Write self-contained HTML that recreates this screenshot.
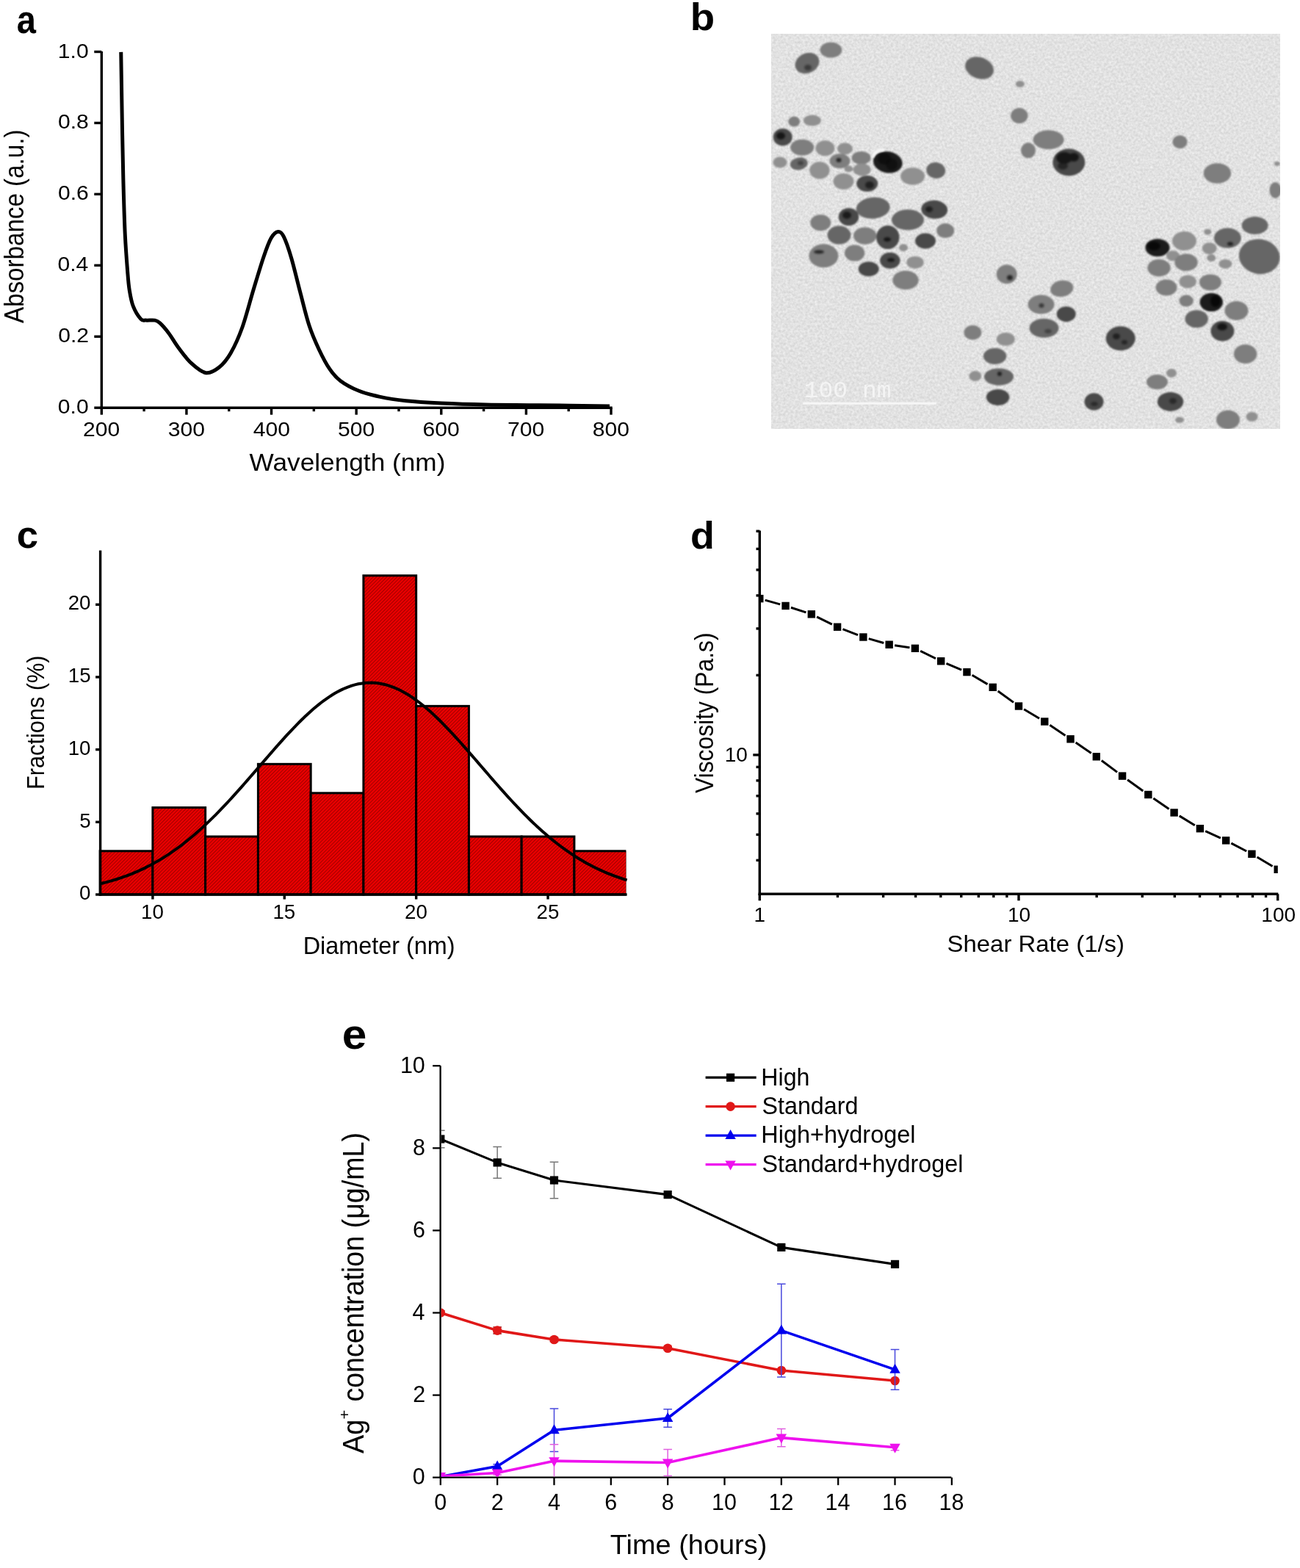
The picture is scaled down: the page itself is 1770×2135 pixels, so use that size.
<!DOCTYPE html>
<html><head><meta charset="utf-8"><style>
html,body{margin:0;padding:0;background:#fff;}
svg{display:block;}
</style></head><body>
<svg width="1770" height="2135" viewBox="0 0 1770 2135">
<rect width="1770" height="2135" fill="#fff"/>
<line x1="138.30" y1="70.00" x2="138.30" y2="556.90" stroke="#000" stroke-width="3.4" />
<line x1="136.60" y1="555.20" x2="833.70" y2="555.20" stroke="#000" stroke-width="3.4" />
<line x1="138.30" y1="555.20" x2="138.30" y2="564.70" stroke="#000" stroke-width="3.4" />
<line x1="253.92" y1="555.20" x2="253.92" y2="564.70" stroke="#000" stroke-width="3.4" />
<line x1="369.53" y1="555.20" x2="369.53" y2="564.70" stroke="#000" stroke-width="3.4" />
<line x1="485.15" y1="555.20" x2="485.15" y2="564.70" stroke="#000" stroke-width="3.4" />
<line x1="600.77" y1="555.20" x2="600.77" y2="564.70" stroke="#000" stroke-width="3.4" />
<line x1="716.38" y1="555.20" x2="716.38" y2="564.70" stroke="#000" stroke-width="3.4" />
<line x1="832.00" y1="555.20" x2="832.00" y2="564.70" stroke="#000" stroke-width="3.4" />
<line x1="196.11" y1="555.20" x2="196.11" y2="560.20" stroke="#000" stroke-width="3.4" />
<line x1="311.73" y1="555.20" x2="311.73" y2="560.20" stroke="#000" stroke-width="3.4" />
<line x1="427.34" y1="555.20" x2="427.34" y2="560.20" stroke="#000" stroke-width="3.4" />
<line x1="542.96" y1="555.20" x2="542.96" y2="560.20" stroke="#000" stroke-width="3.4" />
<line x1="658.58" y1="555.20" x2="658.58" y2="560.20" stroke="#000" stroke-width="3.4" />
<line x1="774.19" y1="555.20" x2="774.19" y2="560.20" stroke="#000" stroke-width="3.4" />
<line x1="138.30" y1="555.20" x2="128.30" y2="555.20" stroke="#000" stroke-width="3.4" />
<line x1="138.30" y1="458.26" x2="128.30" y2="458.26" stroke="#000" stroke-width="3.4" />
<line x1="138.30" y1="361.32" x2="128.30" y2="361.32" stroke="#000" stroke-width="3.4" />
<line x1="138.30" y1="264.38" x2="128.30" y2="264.38" stroke="#000" stroke-width="3.4" />
<line x1="138.30" y1="167.44" x2="128.30" y2="167.44" stroke="#000" stroke-width="3.4" />
<line x1="138.30" y1="70.50" x2="128.30" y2="70.50" stroke="#000" stroke-width="3.4" />
<text x="78.81" y="563.20" font-family="'Liberation Sans',Arial,sans-serif" font-weight="normal" font-size="27.60" textLength="41.82" lengthAdjust="spacingAndGlyphs" fill="#000" >0.0</text>
<text x="79.19" y="466.26" font-family="'Liberation Sans',Arial,sans-serif" font-weight="normal" font-size="27.60" textLength="41.82" lengthAdjust="spacingAndGlyphs" fill="#000" >0.2</text>
<text x="78.51" y="369.32" font-family="'Liberation Sans',Arial,sans-serif" font-weight="normal" font-size="27.60" textLength="41.82" lengthAdjust="spacingAndGlyphs" fill="#000" >0.4</text>
<text x="78.96" y="272.38" font-family="'Liberation Sans',Arial,sans-serif" font-weight="normal" font-size="27.60" textLength="41.82" lengthAdjust="spacingAndGlyphs" fill="#000" >0.6</text>
<text x="78.96" y="175.44" font-family="'Liberation Sans',Arial,sans-serif" font-weight="normal" font-size="27.60" textLength="41.82" lengthAdjust="spacingAndGlyphs" fill="#000" >0.8</text>
<text x="78.81" y="78.50" font-family="'Liberation Sans',Arial,sans-serif" font-weight="normal" font-size="27.60" textLength="41.82" lengthAdjust="spacingAndGlyphs" fill="#000" >1.0</text>
<text x="113.03" y="593.70" font-family="'Liberation Sans',Arial,sans-serif" font-weight="normal" font-size="27.60" textLength="50.20" lengthAdjust="spacingAndGlyphs" fill="#000" >200</text>
<text x="228.83" y="593.70" font-family="'Liberation Sans',Arial,sans-serif" font-weight="normal" font-size="27.60" textLength="50.20" lengthAdjust="spacingAndGlyphs" fill="#000" >300</text>
<text x="344.68" y="593.70" font-family="'Liberation Sans',Arial,sans-serif" font-weight="normal" font-size="27.60" textLength="50.20" lengthAdjust="spacingAndGlyphs" fill="#000" >400</text>
<text x="460.03" y="593.70" font-family="'Liberation Sans',Arial,sans-serif" font-weight="normal" font-size="27.60" textLength="50.20" lengthAdjust="spacingAndGlyphs" fill="#000" >500</text>
<text x="575.50" y="593.70" font-family="'Liberation Sans',Arial,sans-serif" font-weight="normal" font-size="27.60" textLength="50.20" lengthAdjust="spacingAndGlyphs" fill="#000" >600</text>
<text x="691.11" y="593.70" font-family="'Liberation Sans',Arial,sans-serif" font-weight="normal" font-size="27.60" textLength="50.20" lengthAdjust="spacingAndGlyphs" fill="#000" >700</text>
<text x="806.84" y="593.70" font-family="'Liberation Sans',Arial,sans-serif" font-weight="normal" font-size="27.60" textLength="50.20" lengthAdjust="spacingAndGlyphs" fill="#000" >800</text>
<text x="339.62" y="640.80" font-family="'Liberation Sans',Arial,sans-serif" font-weight="normal" font-size="33.70" textLength="266.77" lengthAdjust="spacingAndGlyphs" fill="#000" >Wavelength (nm)</text>
<text transform="translate(31.90,0) rotate(-90)" x="-440.08" y="0" font-family="'Liberation Sans',Arial,sans-serif" font-weight="normal" font-size="36.00" textLength="263.52" lengthAdjust="spacingAndGlyphs" fill="#000" >Absorbance (a.u.)</text>
<path d="M164.75,70.90 C165.06,89.72 166.03,152.62 166.60,183.80 C167.17,214.98 167.58,235.30 168.20,258.00 C168.82,280.70 169.40,301.50 170.30,320.00 C171.20,338.50 172.62,356.53 173.60,369.00 C174.58,381.47 174.90,386.77 176.20,394.80 C177.50,402.83 178.82,410.60 181.40,417.20 C183.98,423.80 188.83,431.25 191.70,434.40 C194.57,437.55 195.43,435.82 198.60,436.10 C201.77,436.38 207.55,435.52 210.70,436.10 C213.85,436.68 214.35,436.72 217.50,439.60 C220.65,442.48 225.28,447.67 229.60,453.40 C233.92,459.13 238.23,467.12 243.40,474.00 C248.57,480.88 254.43,489.08 260.60,494.70 C266.77,500.32 274.08,506.82 280.40,507.70 C286.72,508.58 292.90,504.45 298.50,500.00 C304.10,495.55 308.82,489.92 314.00,481.00 C319.18,472.08 324.43,460.87 329.60,446.50 C334.77,432.13 340.12,410.88 345.00,394.80 C349.88,378.72 354.87,361.78 358.90,350.00 C362.93,338.22 365.90,329.85 369.20,324.10 C372.50,318.35 375.83,315.78 378.70,315.50 C381.57,315.22 383.38,316.37 386.40,322.40 C389.42,328.43 393.07,339.07 396.80,351.70 C400.53,364.33 404.78,382.98 408.80,398.20 C412.82,413.42 416.62,430.00 420.90,443.00 C425.18,456.00 429.82,466.25 434.50,476.20 C439.18,486.15 444.18,495.67 449.00,502.70 C453.82,509.73 456.97,513.57 463.40,518.40 C469.83,523.23 478.75,528.08 487.60,531.70 C496.45,535.32 505.65,537.77 516.50,540.10 C527.35,542.43 538.62,544.22 552.70,545.70 C566.78,547.18 582.90,548.12 601.00,549.00 C619.10,549.88 639.20,550.55 661.30,551.00 C683.40,551.45 705.48,551.38 733.60,551.70 C761.72,552.02 813.93,552.70 830.00,552.90" fill="none" stroke="#000" stroke-width="5" stroke-linejoin="round"/>
<text x="22.79" y="45.30" font-family="'Liberation Sans',Arial,sans-serif" font-weight="bold" font-size="53.00" textLength="26.22" lengthAdjust="spacingAndGlyphs" fill="#000" >a</text>
<defs><filter id="tn" x="0" y="0" width="100%" height="100%" color-interpolation-filters="sRGB"><feTurbulence type="fractalNoise" baseFrequency="0.3" numOctaves="2" seed="7" result="n"/><feColorMatrix in="n" type="matrix" values="0.16 0 0 0 0.805  0.16 0 0 0 0.805  0.16 0 0 0 0.805  0 0 0 0 1"/></filter><filter id="pb" x="-30%" y="-30%" width="160%" height="160%"><feGaussianBlur stdDeviation="1.1"/></filter><filter id="sb" x="-50%" y="-50%" width="200%" height="200%"><feGaussianBlur stdDeviation="1.8"/></filter><clipPath id="tc"><rect x="1050" y="46" width="693" height="538"/></clipPath></defs>
<rect x="1050" y="46" width="693" height="538" fill="#dedede"/>
<rect x="1050" y="46" width="693" height="538" filter="url(#tn)"/>
<g clip-path="url(#tc)"><g filter="url(#pb)">
<ellipse cx="1099" cy="86" rx="17" ry="13.5" fill="#666666" transform="rotate(-25 1099 86)"/>
<ellipse cx="1131.4" cy="68.1" rx="15" ry="10.5" fill="#7e7e7e"/>
<ellipse cx="1333.5" cy="92.6" rx="20" ry="14.5" fill="#666666" transform="rotate(20 1333.5 92.6)"/>
<ellipse cx="1388.8" cy="114.4" rx="6" ry="4.5" fill="#909090"/>
<ellipse cx="1387.8" cy="157.6" rx="11.7" ry="10.5" fill="#7e7e7e"/>
<ellipse cx="1400" cy="204.8" rx="10" ry="10.5" fill="#7e7e7e"/>
<ellipse cx="1081.2" cy="165.6" rx="8" ry="7" fill="#7e7e7e"/>
<ellipse cx="1105.9" cy="164" rx="12" ry="7.6" fill="#909090"/>
<ellipse cx="1065.7" cy="186.7" rx="13" ry="11.7" fill="#494949"/>
<ellipse cx="1092.2" cy="200.8" rx="16" ry="11" fill="#7e7e7e"/>
<ellipse cx="1123.4" cy="201.8" rx="13" ry="10.5" fill="#909090"/>
<ellipse cx="1150.5" cy="202.4" rx="10.5" ry="8" fill="#909090"/>
<ellipse cx="1062" cy="221" rx="9.6" ry="7.6" fill="#909090"/>
<ellipse cx="1087.8" cy="222.9" rx="12" ry="8.4" fill="#666666" transform="rotate(-10 1087.8 222.9)"/>
<ellipse cx="1143.5" cy="219.3" rx="14" ry="10" fill="#7e7e7e"/>
<ellipse cx="1172.6" cy="214.9" rx="13" ry="9" fill="#7e7e7e"/>
<ellipse cx="1208.8" cy="220.9" rx="20" ry="14.5" fill="#1c1c1c" transform="rotate(10 1208.8 220.9)"/>
<ellipse cx="1115.9" cy="232" rx="13.7" ry="11.7" fill="#909090"/>
<ellipse cx="1173.6" cy="231" rx="12" ry="8.4" fill="#909090"/>
<ellipse cx="1155.5" cy="230" rx="6" ry="4.4" fill="#909090"/>
<ellipse cx="1148.5" cy="247" rx="14" ry="11" fill="#909090"/>
<ellipse cx="1180.7" cy="250" rx="14.5" ry="11" fill="#494949"/>
<ellipse cx="1242.6" cy="240" rx="16.5" ry="11.7" fill="#909090"/>
<ellipse cx="1274.2" cy="232" rx="13" ry="11" fill="#666666" transform="rotate(10 1274.2 232)"/>
<ellipse cx="1188.7" cy="283.2" rx="23" ry="14.5" fill="#666666" transform="rotate(-5 1188.7 283.2)"/>
<ellipse cx="1155.5" cy="295.3" rx="13.7" ry="12" fill="#494949"/>
<ellipse cx="1117.3" cy="303.3" rx="14" ry="11" fill="#7e7e7e"/>
<ellipse cx="1236" cy="299.3" rx="22" ry="14" fill="#666666"/>
<ellipse cx="1272.2" cy="285.3" rx="18" ry="12.5" fill="#494949" transform="rotate(5 1272.2 285.3)"/>
<ellipse cx="1287.2" cy="314.1" rx="12" ry="10" fill="#7e7e7e"/>
<ellipse cx="1427.6" cy="190.3" rx="21" ry="13" fill="#7e7e7e"/>
<ellipse cx="1455.3" cy="221" rx="22" ry="18.5" fill="#494949"/>
<ellipse cx="1606.5" cy="193.2" rx="10" ry="9" fill="#7e7e7e"/>
<ellipse cx="1657.4" cy="236" rx="18.7" ry="13.7" fill="#7e7e7e"/>
<ellipse cx="1738.8" cy="223" rx="4" ry="3" fill="#909090"/>
<ellipse cx="1736.4" cy="259" rx="8" ry="11" fill="#7e7e7e"/>
<ellipse cx="1708.6" cy="307" rx="18" ry="12" fill="#666666"/>
<ellipse cx="1142.5" cy="320.1" rx="16" ry="12.5" fill="#666666"/>
<ellipse cx="1177.7" cy="321.1" rx="15.7" ry="11.7" fill="#7e7e7e"/>
<ellipse cx="1208.8" cy="323.1" rx="15.7" ry="16" fill="#494949"/>
<ellipse cx="1260" cy="328.1" rx="14" ry="10.5" fill="#494949"/>
<ellipse cx="1230" cy="337.2" rx="6" ry="5" fill="#909090"/>
<ellipse cx="1121.4" cy="348.3" rx="20" ry="16" fill="#7e7e7e"/>
<ellipse cx="1163.6" cy="344.6" rx="13.7" ry="11" fill="#7e7e7e"/>
<ellipse cx="1211.8" cy="354.7" rx="13.7" ry="11" fill="#494949"/>
<ellipse cx="1246" cy="357.3" rx="11.7" ry="8.4" fill="#909090"/>
<ellipse cx="1182.7" cy="366.3" rx="14" ry="10" fill="#494949"/>
<ellipse cx="1233" cy="381.4" rx="17.7" ry="13" fill="#7e7e7e"/>
<ellipse cx="1370.7" cy="373.4" rx="14" ry="13" fill="#7e7e7e"/>
<ellipse cx="1324.4" cy="452.8" rx="12" ry="10" fill="#7e7e7e"/>
<ellipse cx="1369.3" cy="461.8" rx="12.5" ry="9" fill="#909090"/>
<ellipse cx="1354.6" cy="485" rx="15.7" ry="11" fill="#666666"/>
<ellipse cx="1327.8" cy="512.1" rx="8.4" ry="7" fill="#909090"/>
<ellipse cx="1360" cy="513.1" rx="20" ry="11.7" fill="#666666"/>
<ellipse cx="1358.6" cy="540.9" rx="15.7" ry="11" fill="#494949"/>
<ellipse cx="1576" cy="337.2" rx="16.5" ry="12" fill="#1c1c1c"/>
<ellipse cx="1612.5" cy="328.1" rx="16.5" ry="13" fill="#909090"/>
<ellipse cx="1644.3" cy="315.7" rx="5" ry="4" fill="#909090"/>
<ellipse cx="1671.4" cy="324.1" rx="18.5" ry="13.7" fill="#666666"/>
<ellipse cx="1714.7" cy="349.3" rx="28" ry="23.7" fill="#666666" transform="rotate(10 1714.7 349.3)"/>
<ellipse cx="1646.7" cy="338.2" rx="10" ry="8" fill="#909090"/>
<ellipse cx="1649.3" cy="351.3" rx="6" ry="5" fill="#909090"/>
<ellipse cx="1597" cy="348.2" rx="9" ry="7" fill="#909090"/>
<ellipse cx="1615" cy="357.3" rx="15.7" ry="11.7" fill="#7e7e7e"/>
<ellipse cx="1578" cy="364.7" rx="15.7" ry="11.7" fill="#7e7e7e"/>
<ellipse cx="1668.4" cy="359.3" rx="9" ry="6.4" fill="#909090"/>
<ellipse cx="1588" cy="391.5" rx="14.5" ry="11" fill="#7e7e7e"/>
<ellipse cx="1617.2" cy="383.4" rx="11.7" ry="9" fill="#909090"/>
<ellipse cx="1648" cy="384.4" rx="15" ry="11" fill="#7e7e7e"/>
<ellipse cx="1615.2" cy="409.6" rx="9.7" ry="8" fill="#7e7e7e"/>
<ellipse cx="1649.3" cy="411.6" rx="15.7" ry="12.5" fill="#1c1c1c"/>
<ellipse cx="1683.5" cy="423" rx="16" ry="13" fill="#7e7e7e"/>
<ellipse cx="1629.2" cy="434.3" rx="15.7" ry="12" fill="#666666"/>
<ellipse cx="1664.4" cy="450.8" rx="16" ry="13.7" fill="#494949"/>
<ellipse cx="1695.6" cy="482" rx="15.7" ry="13" fill="#7e7e7e"/>
<ellipse cx="1445.7" cy="392.9" rx="15.7" ry="11" fill="#7e7e7e" transform="rotate(-10 1445.7 392.9)"/>
<ellipse cx="1417.5" cy="414.6" rx="18" ry="13" fill="#7e7e7e"/>
<ellipse cx="1451.7" cy="427.7" rx="13" ry="10.5" fill="#494949"/>
<ellipse cx="1421.5" cy="446.8" rx="20" ry="13" fill="#666666"/>
<ellipse cx="1525.7" cy="460.8" rx="20" ry="16.5" fill="#494949"/>
<ellipse cx="1595" cy="508" rx="7" ry="6" fill="#909090"/>
<ellipse cx="1575.5" cy="520.1" rx="14.5" ry="10" fill="#7e7e7e"/>
<ellipse cx="1593.6" cy="546.9" rx="17.7" ry="13" fill="#494949"/>
<ellipse cx="1489.5" cy="546.9" rx="13" ry="11.7" fill="#494949"/>
<ellipse cx="1606" cy="571.8" rx="6" ry="4" fill="#909090"/>
<ellipse cx="1672" cy="571.4" rx="16" ry="13" fill="#7e7e7e"/>
<ellipse cx="1704.6" cy="567.4" rx="8" ry="6.4" fill="#909090"/>
</g><g filter="url(#sb)" opacity="0.7">
<ellipse cx="1063" cy="185" rx="6" ry="5" fill="#000" opacity="1"/>
<ellipse cx="1142" cy="218" rx="3.5" ry="3" fill="#000" opacity="1"/>
<ellipse cx="1449" cy="215" rx="11" ry="8" fill="#000" opacity="1"/>
<ellipse cx="1462" cy="214" rx="7" ry="6" fill="#000" opacity="1"/>
<ellipse cx="1447" cy="226" rx="7" ry="5" fill="#000" opacity="0.7"/>
<ellipse cx="1571" cy="335" rx="9" ry="6" fill="#000" opacity="1"/>
<ellipse cx="1655" cy="410" rx="7" ry="8" fill="#000" opacity="1"/>
<ellipse cx="1375" cy="378" rx="4" ry="3.5" fill="#000" opacity="1"/>
<ellipse cx="1213" cy="354" rx="5" ry="2.5" fill="#000" opacity="1"/>
<ellipse cx="1208" cy="326" rx="5" ry="3" fill="#000" opacity="1"/>
<ellipse cx="1115" cy="343" rx="7" ry="2.5" fill="#000" opacity="1"/>
<ellipse cx="1520" cy="458" rx="5" ry="4" fill="#000" opacity="0.8"/>
<ellipse cx="1531" cy="466" rx="4" ry="3" fill="#000" opacity="0.7"/>
<ellipse cx="1418" cy="416" rx="3.5" ry="3" fill="#000" opacity="0.8"/>
<ellipse cx="1664" cy="445" rx="7" ry="5" fill="#000" opacity="1"/>
<ellipse cx="1361" cy="509" rx="3" ry="3" fill="#000" opacity="1"/>
<ellipse cx="1675" cy="332" rx="4" ry="2.5" fill="#000" opacity="1"/>
<ellipse cx="1100" cy="92" rx="5" ry="4" fill="#000" opacity="0.6"/>
<ellipse cx="1184" cy="252" rx="6" ry="5" fill="#000" opacity="0.8"/>
<ellipse cx="1153" cy="293" rx="6" ry="5" fill="#000" opacity="0.9"/>
<ellipse cx="1265" cy="285" rx="5" ry="4" fill="#000" opacity="0.8"/>
<ellipse cx="1090" cy="222" rx="4" ry="3" fill="#000" opacity="0.5"/>
<ellipse cx="1204" cy="216" rx="9" ry="8" fill="#000" opacity="0.7"/>
<ellipse cx="1214" cy="224" rx="8" ry="8" fill="#000" opacity="0.6"/>
<ellipse cx="1427" cy="451" rx="5" ry="3" fill="#000" opacity="0.5"/>
<ellipse cx="1597" cy="546" rx="5" ry="4" fill="#000" opacity="0.6"/>
<ellipse cx="1490" cy="550" rx="5" ry="3" fill="#000" opacity="0.6"/>
</g>
<path d="M1188,214 Q1192,203 1204,204" fill="none" stroke="#f4f4f4" stroke-width="4" filter="url(#pb)"/>
</g>
<line x1="1093.20" y1="549.30" x2="1274.80" y2="549.30" stroke="#f6f6f6" stroke-width="3" />
<text x="1094.81" y="541.30" font-family="'Liberation Mono','Courier New',monospace" font-weight="normal" font-size="31.00" textLength="118.66" lengthAdjust="spacingAndGlyphs" fill="#f4f4f4" >100 nm</text>
<text x="939.65" y="41.40" font-family="'Liberation Sans',Arial,sans-serif" font-weight="bold" font-size="52.00" textLength="33.39" lengthAdjust="spacingAndGlyphs" fill="#000" >b</text>
<defs><pattern id="hat" patternUnits="userSpaceOnUse" width="3.3" height="3.3" patternTransform="rotate(45)"><rect width="3.3" height="3.3" fill="#ee0000"/><rect width="1.15" height="3.3" fill="#a40000"/></pattern><clipPath id="cc"><rect x="0" y="0" width="852.4" height="2135"/></clipPath></defs>
<g clip-path="url(#cc)">
<rect x="136.15" y="1158.78" width="71.75" height="59.22" fill="url(#hat)" stroke="#000" stroke-width="3"/>
<rect x="207.90" y="1099.56" width="71.75" height="118.44" fill="url(#hat)" stroke="#000" stroke-width="3"/>
<rect x="279.65" y="1139.04" width="71.75" height="78.96" fill="url(#hat)" stroke="#000" stroke-width="3"/>
<rect x="351.40" y="1040.34" width="71.75" height="177.66" fill="url(#hat)" stroke="#000" stroke-width="3"/>
<rect x="423.15" y="1079.82" width="71.75" height="138.18" fill="url(#hat)" stroke="#000" stroke-width="3"/>
<rect x="494.90" y="783.72" width="71.75" height="434.28" fill="url(#hat)" stroke="#000" stroke-width="3"/>
<rect x="566.65" y="961.38" width="71.75" height="256.62" fill="url(#hat)" stroke="#000" stroke-width="3"/>
<rect x="638.40" y="1139.04" width="71.75" height="78.96" fill="url(#hat)" stroke="#000" stroke-width="3"/>
<rect x="710.15" y="1139.04" width="71.75" height="78.96" fill="url(#hat)" stroke="#000" stroke-width="3"/>
<rect x="781.90" y="1158.78" width="71.75" height="59.22" fill="url(#hat)" stroke="#000" stroke-width="3"/>
</g>
<polyline points="136.15,1203.41 139.74,1202.54 143.32,1201.62 146.91,1200.67 150.50,1199.67 154.09,1198.62 157.67,1197.52 161.26,1196.38 164.85,1195.18 168.44,1193.93 172.03,1192.62 175.61,1191.26 179.20,1189.85 182.79,1188.37 186.38,1186.83 189.96,1185.24 193.55,1183.58 197.14,1181.86 200.73,1180.07 204.31,1178.22 207.90,1176.30 211.49,1174.31 215.07,1172.26 218.66,1170.13 222.25,1167.94 225.84,1165.67 229.43,1163.34 233.01,1160.93 236.60,1158.44 240.19,1155.89 243.78,1153.26 247.36,1150.56 250.95,1147.79 254.54,1144.94 258.12,1142.02 261.71,1139.03 265.30,1135.97 268.89,1132.84 272.48,1129.63 276.06,1126.36 279.65,1123.03 283.24,1119.62 286.82,1116.16 290.41,1112.63 294.00,1109.04 297.59,1105.39 301.17,1101.68 304.76,1097.92 308.35,1094.12 311.94,1090.26 315.52,1086.35 319.11,1082.41 322.70,1078.42 326.29,1074.40 329.88,1070.35 333.46,1066.27 337.05,1062.16 340.64,1058.03 344.23,1053.89 347.81,1049.74 351.40,1045.57 354.99,1041.41 358.57,1037.25 362.16,1033.09 365.75,1028.95 369.34,1024.82 372.92,1020.71 376.51,1016.63 380.10,1012.59 383.69,1008.58 387.27,1004.61 390.86,1000.69 394.45,996.83 398.04,993.02 401.62,989.28 405.21,985.61 408.80,982.01 412.39,978.49 415.98,975.06 419.56,971.72 423.15,968.47 426.74,965.32 430.32,962.28 433.91,959.35 437.50,956.54 441.09,953.84 444.68,951.27 448.26,948.82 451.85,946.51 455.44,944.33 459.02,942.29 462.61,940.39 466.20,938.64 469.79,937.03 473.38,935.58 476.96,934.28 480.55,933.14 484.14,932.15 487.73,931.32 491.31,930.66 494.90,930.15 498.49,929.81 502.07,929.63 505.66,929.61 509.25,929.76 512.84,930.07 516.43,930.54 520.01,931.18 523.60,931.97 527.19,932.93 530.77,934.04 534.36,935.31 537.95,936.73 541.54,938.31 545.12,940.03 548.71,941.90 552.30,943.91 555.89,946.06 559.48,948.35 563.06,950.77 566.65,953.32 570.24,955.99 573.82,958.78 577.41,961.69 581.00,964.71 584.59,967.83 588.18,971.06 591.76,974.38 595.35,977.80 598.94,981.30 602.52,984.88 606.11,988.54 609.70,992.27 613.29,996.06 616.88,999.91 620.46,1003.82 624.05,1007.78 627.64,1011.78 631.23,1015.82 634.81,1019.89 638.40,1024.00 641.99,1028.12 645.57,1032.26 649.16,1036.42 652.75,1040.58 656.34,1044.74 659.93,1048.90 663.51,1053.06 667.10,1057.21 670.69,1061.34 674.27,1065.45 677.86,1069.53 681.45,1073.59 685.04,1077.62 688.62,1081.61 692.21,1085.57 695.80,1089.48 699.39,1093.35 702.98,1097.17 706.56,1100.94 710.15,1104.65 713.74,1108.31 717.32,1111.91 720.91,1115.46 724.50,1118.94 728.09,1122.35 731.68,1125.70 735.26,1128.99 738.85,1132.20 742.44,1135.35 746.02,1138.42 749.61,1141.43 753.20,1144.36 756.79,1147.22 760.37,1150.01 763.96,1152.73 767.55,1155.37 771.14,1157.94 774.73,1160.44 778.31,1162.86 781.90,1165.21 785.49,1167.49 789.07,1169.70 792.66,1171.84 796.25,1173.91 799.84,1175.91 803.43,1177.84 807.01,1179.71 810.60,1181.51 814.19,1183.24 817.77,1184.91 821.36,1186.52 824.95,1188.07 828.54,1189.55 832.12,1190.98 835.71,1192.35 839.30,1193.67 842.89,1194.93 846.48,1196.14 850.06,1197.30 853.65,1198.40" fill="none" stroke="#000" stroke-width="4" stroke-linejoin="round"/>
<line x1="136.60" y1="749.50" x2="136.60" y2="1219.70" stroke="#000" stroke-width="3.4" />
<line x1="134.90" y1="1218.00" x2="853.60" y2="1218.00" stroke="#000" stroke-width="3.4" />
<line x1="136.60" y1="1218.00" x2="130.10" y2="1218.00" stroke="#000" stroke-width="3.4" />
<text x="108.07" y="1225.20" font-family="'Liberation Sans',Arial,sans-serif" font-weight="normal" font-size="27.70" textLength="15.41" lengthAdjust="spacingAndGlyphs" fill="#000" >0</text>
<line x1="136.60" y1="1119.30" x2="130.10" y2="1119.30" stroke="#000" stroke-width="3.4" />
<text x="108.13" y="1126.50" font-family="'Liberation Sans',Arial,sans-serif" font-weight="normal" font-size="27.70" textLength="15.41" lengthAdjust="spacingAndGlyphs" fill="#000" >5</text>
<line x1="136.60" y1="1020.60" x2="130.10" y2="1020.60" stroke="#000" stroke-width="3.4" />
<text x="92.69" y="1027.80" font-family="'Liberation Sans',Arial,sans-serif" font-weight="normal" font-size="27.70" textLength="30.81" lengthAdjust="spacingAndGlyphs" fill="#000" >10</text>
<line x1="136.60" y1="921.90" x2="130.10" y2="921.90" stroke="#000" stroke-width="3.4" />
<text x="92.76" y="929.10" font-family="'Liberation Sans',Arial,sans-serif" font-weight="normal" font-size="27.70" textLength="30.81" lengthAdjust="spacingAndGlyphs" fill="#000" >15</text>
<line x1="136.60" y1="823.20" x2="130.10" y2="823.20" stroke="#000" stroke-width="3.4" />
<text x="92.69" y="830.40" font-family="'Liberation Sans',Arial,sans-serif" font-weight="normal" font-size="27.70" textLength="30.81" lengthAdjust="spacingAndGlyphs" fill="#000" >20</text>
<line x1="207.90" y1="1218.00" x2="207.90" y2="1224.50" stroke="#000" stroke-width="3.4" />
<text x="192.01" y="1250.80" font-family="'Liberation Sans',Arial,sans-serif" font-weight="normal" font-size="27.70" textLength="30.81" lengthAdjust="spacingAndGlyphs" fill="#000" >10</text>
<line x1="387.27" y1="1218.00" x2="387.27" y2="1224.50" stroke="#000" stroke-width="3.4" />
<text x="371.42" y="1250.80" font-family="'Liberation Sans',Arial,sans-serif" font-weight="normal" font-size="27.70" textLength="30.81" lengthAdjust="spacingAndGlyphs" fill="#000" >15</text>
<line x1="566.65" y1="1218.00" x2="566.65" y2="1224.50" stroke="#000" stroke-width="3.4" />
<text x="551.10" y="1250.80" font-family="'Liberation Sans',Arial,sans-serif" font-weight="normal" font-size="27.70" textLength="30.81" lengthAdjust="spacingAndGlyphs" fill="#000" >20</text>
<line x1="746.02" y1="1218.00" x2="746.02" y2="1224.50" stroke="#000" stroke-width="3.4" />
<text x="730.51" y="1250.80" font-family="'Liberation Sans',Arial,sans-serif" font-weight="normal" font-size="27.70" textLength="30.81" lengthAdjust="spacingAndGlyphs" fill="#000" >25</text>
<text x="412.63" y="1298.80" font-family="'Liberation Sans',Arial,sans-serif" font-weight="normal" font-size="32.50" textLength="206.81" lengthAdjust="spacingAndGlyphs" fill="#000" >Diameter (nm)</text>
<text transform="translate(59.75,0) rotate(-90)" x="-1075.03" y="0" font-family="'Liberation Sans',Arial,sans-serif" font-weight="normal" font-size="34.00" textLength="182.59" lengthAdjust="spacingAndGlyphs" fill="#000" >Fractions (%)</text>
<text x="22.69" y="746.00" font-family="'Liberation Sans',Arial,sans-serif" font-weight="bold" font-size="51.50" textLength="29.32" lengthAdjust="spacingAndGlyphs" fill="#000" >c</text>
<line x1="1034.30" y1="722.50" x2="1034.30" y2="1219.00" stroke="#000" stroke-width="3.4" />
<line x1="1032.60" y1="1217.30" x2="1740.30" y2="1217.30" stroke="#000" stroke-width="3.4" />
<line x1="1140.47" y1="1217.30" x2="1140.47" y2="1222.10" stroke="#000" stroke-width="3.4" />
<line x1="1202.58" y1="1217.30" x2="1202.58" y2="1222.10" stroke="#000" stroke-width="3.4" />
<line x1="1246.65" y1="1217.30" x2="1246.65" y2="1222.10" stroke="#000" stroke-width="3.4" />
<line x1="1280.83" y1="1217.30" x2="1280.83" y2="1222.10" stroke="#000" stroke-width="3.4" />
<line x1="1308.75" y1="1217.30" x2="1308.75" y2="1222.10" stroke="#000" stroke-width="3.4" />
<line x1="1332.37" y1="1217.30" x2="1332.37" y2="1222.10" stroke="#000" stroke-width="3.4" />
<line x1="1352.82" y1="1217.30" x2="1352.82" y2="1222.10" stroke="#000" stroke-width="3.4" />
<line x1="1370.86" y1="1217.30" x2="1370.86" y2="1222.10" stroke="#000" stroke-width="3.4" />
<line x1="1493.17" y1="1217.30" x2="1493.17" y2="1222.10" stroke="#000" stroke-width="3.4" />
<line x1="1555.28" y1="1217.30" x2="1555.28" y2="1222.10" stroke="#000" stroke-width="3.4" />
<line x1="1599.35" y1="1217.30" x2="1599.35" y2="1222.10" stroke="#000" stroke-width="3.4" />
<line x1="1633.53" y1="1217.30" x2="1633.53" y2="1222.10" stroke="#000" stroke-width="3.4" />
<line x1="1661.45" y1="1217.30" x2="1661.45" y2="1222.10" stroke="#000" stroke-width="3.4" />
<line x1="1685.07" y1="1217.30" x2="1685.07" y2="1222.10" stroke="#000" stroke-width="3.4" />
<line x1="1705.52" y1="1217.30" x2="1705.52" y2="1222.10" stroke="#000" stroke-width="3.4" />
<line x1="1723.56" y1="1217.30" x2="1723.56" y2="1222.10" stroke="#000" stroke-width="3.4" />
<line x1="1034.30" y1="1217.30" x2="1034.30" y2="1226.30" stroke="#000" stroke-width="3.4" />
<line x1="1387.00" y1="1217.30" x2="1387.00" y2="1226.30" stroke="#000" stroke-width="3.4" />
<line x1="1739.70" y1="1217.30" x2="1739.70" y2="1226.30" stroke="#000" stroke-width="3.4" />
<line x1="1034.30" y1="1171.36" x2="1029.50" y2="1171.36" stroke="#000" stroke-width="3.4" />
<line x1="1034.30" y1="1136.42" x2="1029.50" y2="1136.42" stroke="#000" stroke-width="3.4" />
<line x1="1034.30" y1="1107.88" x2="1029.50" y2="1107.88" stroke="#000" stroke-width="3.4" />
<line x1="1034.30" y1="1083.74" x2="1029.50" y2="1083.74" stroke="#000" stroke-width="3.4" />
<line x1="1034.30" y1="1062.84" x2="1029.50" y2="1062.84" stroke="#000" stroke-width="3.4" />
<line x1="1034.30" y1="1044.40" x2="1029.50" y2="1044.40" stroke="#000" stroke-width="3.4" />
<line x1="1034.30" y1="919.38" x2="1029.50" y2="919.38" stroke="#000" stroke-width="3.4" />
<line x1="1034.30" y1="855.90" x2="1029.50" y2="855.90" stroke="#000" stroke-width="3.4" />
<line x1="1034.30" y1="810.86" x2="1029.50" y2="810.86" stroke="#000" stroke-width="3.4" />
<line x1="1034.30" y1="775.92" x2="1029.50" y2="775.92" stroke="#000" stroke-width="3.4" />
<line x1="1034.30" y1="747.38" x2="1029.50" y2="747.38" stroke="#000" stroke-width="3.4" />
<line x1="1034.30" y1="723.24" x2="1029.50" y2="723.24" stroke="#000" stroke-width="3.4" />
<line x1="1034.30" y1="1027.90" x2="1025.30" y2="1027.90" stroke="#000" stroke-width="3.4" />
<text x="986.77" y="1036.50" font-family="'Liberation Sans',Arial,sans-serif" font-weight="normal" font-size="28.00" textLength="31.15" lengthAdjust="spacingAndGlyphs" fill="#000" >10</text>
<text x="1026.44" y="1254.80" font-family="'Liberation Sans',Arial,sans-serif" font-weight="normal" font-size="28.00" textLength="15.57" lengthAdjust="spacingAndGlyphs" fill="#000" >1</text>
<text x="1371.94" y="1254.80" font-family="'Liberation Sans',Arial,sans-serif" font-weight="normal" font-size="28.00" textLength="31.15" lengthAdjust="spacingAndGlyphs" fill="#000" >10</text>
<text x="1717.33" y="1254.80" font-family="'Liberation Sans',Arial,sans-serif" font-weight="normal" font-size="28.00" textLength="46.72" lengthAdjust="spacingAndGlyphs" fill="#000" >100</text>
<text x="1289.52" y="1296.00" font-family="'Liberation Sans',Arial,sans-serif" font-weight="normal" font-size="31.50" textLength="241.51" lengthAdjust="spacingAndGlyphs" fill="#000" >Shear Rate (1/s)</text>
<text transform="translate(970.90,0) rotate(-90)" x="-1080.06" y="0" font-family="'Liberation Sans',Arial,sans-serif" font-weight="normal" font-size="34.70" textLength="218.66" lengthAdjust="spacingAndGlyphs" fill="#000" >Viscosity (Pa.s)</text>
<text x="939.95" y="747.10" font-family="'Liberation Sans',Arial,sans-serif" font-weight="bold" font-size="51.50" textLength="32.90" lengthAdjust="spacingAndGlyphs" fill="#000" >d</text>
<defs><clipPath id="dc"><rect x="1035.3" y="722.5" width="704.5" height="494.79999999999995"/></clipPath></defs>
<g clip-path="url(#dc)">
<line x1="1041.71" y1="817.16" x2="1062.16" y2="822.84" stroke="#000" stroke-width="3" />
<line x1="1076.95" y1="827.28" x2="1097.46" y2="833.92" stroke="#000" stroke-width="3" />
<line x1="1112.08" y1="839.87" x2="1132.87" y2="850.13" stroke="#000" stroke-width="3" />
<line x1="1147.44" y1="856.57" x2="1168.05" y2="864.63" stroke="#000" stroke-width="3" />
<line x1="1182.78" y1="869.64" x2="1203.25" y2="875.56" stroke="#000" stroke-width="3" />
<line x1="1218.12" y1="878.78" x2="1238.45" y2="881.72" stroke="#000" stroke-width="3" />
<line x1="1253.16" y1="886.37" x2="1273.95" y2="896.63" stroke="#000" stroke-width="3" />
<line x1="1288.49" y1="903.29" x2="1309.16" y2="912.01" stroke="#000" stroke-width="3" />
<line x1="1323.62" y1="919.30" x2="1344.57" y2="931.60" stroke="#000" stroke-width="3" />
<line x1="1358.75" y1="940.92" x2="1379.98" y2="956.38" stroke="#000" stroke-width="3" />
<line x1="1394.15" y1="965.76" x2="1415.12" y2="978.24" stroke="#000" stroke-width="3" />
<line x1="1429.34" y1="987.27" x2="1450.47" y2="1001.53" stroke="#000" stroke-width="3" />
<line x1="1464.61" y1="1011.11" x2="1485.74" y2="1025.49" stroke="#000" stroke-width="3" />
<line x1="1499.81" y1="1035.52" x2="1521.08" y2="1051.38" stroke="#000" stroke-width="3" />
<line x1="1535.11" y1="1061.66" x2="1556.32" y2="1076.94" stroke="#000" stroke-width="3" />
<line x1="1570.40" y1="1086.90" x2="1591.57" y2="1101.60" stroke="#000" stroke-width="3" />
<line x1="1605.75" y1="1110.89" x2="1626.76" y2="1123.81" stroke="#000" stroke-width="3" />
<line x1="1641.16" y1="1131.54" x2="1661.89" y2="1141.06" stroke="#000" stroke-width="3" />
<line x1="1676.38" y1="1148.16" x2="1697.21" y2="1159.04" stroke="#000" stroke-width="3" />
<line x1="1711.58" y1="1167.06" x2="1732.55" y2="1179.54" stroke="#000" stroke-width="3" />
<rect x="1029.10" y="809.90" width="10.4" height="10.4" fill="#000"/>
<rect x="1064.37" y="819.70" width="10.4" height="10.4" fill="#000"/>
<rect x="1099.64" y="831.10" width="10.4" height="10.4" fill="#000"/>
<rect x="1134.91" y="848.50" width="10.4" height="10.4" fill="#000"/>
<rect x="1170.18" y="862.30" width="10.4" height="10.4" fill="#000"/>
<rect x="1205.45" y="872.50" width="10.4" height="10.4" fill="#000"/>
<rect x="1240.72" y="877.60" width="10.4" height="10.4" fill="#000"/>
<rect x="1275.99" y="895.00" width="10.4" height="10.4" fill="#000"/>
<rect x="1311.26" y="909.90" width="10.4" height="10.4" fill="#000"/>
<rect x="1346.53" y="930.60" width="10.4" height="10.4" fill="#000"/>
<rect x="1381.80" y="956.30" width="10.4" height="10.4" fill="#000"/>
<rect x="1417.07" y="977.30" width="10.4" height="10.4" fill="#000"/>
<rect x="1452.34" y="1001.10" width="10.4" height="10.4" fill="#000"/>
<rect x="1487.61" y="1025.10" width="10.4" height="10.4" fill="#000"/>
<rect x="1522.88" y="1051.40" width="10.4" height="10.4" fill="#000"/>
<rect x="1558.15" y="1076.80" width="10.4" height="10.4" fill="#000"/>
<rect x="1593.42" y="1101.30" width="10.4" height="10.4" fill="#000"/>
<rect x="1628.69" y="1123.00" width="10.4" height="10.4" fill="#000"/>
<rect x="1663.96" y="1139.20" width="10.4" height="10.4" fill="#000"/>
<rect x="1699.23" y="1157.60" width="10.4" height="10.4" fill="#000"/>
<rect x="1734.50" y="1178.60" width="10.4" height="10.4" fill="#000"/>
</g>
<line x1="599.60" y1="1451.20" x2="599.60" y2="2012.85" stroke="#000" stroke-width="2.3" />
<line x1="598.45" y1="2011.70" x2="1295.30" y2="2011.70" stroke="#000" stroke-width="2.3" />
<line x1="599.60" y1="2011.70" x2="589.10" y2="2011.70" stroke="#000" stroke-width="2.3" />
<text x="561.82" y="2021.20" font-family="'Liberation Sans',Arial,sans-serif" font-weight="normal" font-size="30.50" textLength="16.96" lengthAdjust="spacingAndGlyphs" fill="#000" >0</text>
<line x1="599.60" y1="1899.60" x2="589.10" y2="1899.60" stroke="#000" stroke-width="2.3" />
<text x="562.20" y="1909.10" font-family="'Liberation Sans',Arial,sans-serif" font-weight="normal" font-size="30.50" textLength="16.96" lengthAdjust="spacingAndGlyphs" fill="#000" >2</text>
<line x1="599.60" y1="1787.50" x2="589.10" y2="1787.50" stroke="#000" stroke-width="2.3" />
<text x="561.51" y="1797.00" font-family="'Liberation Sans',Arial,sans-serif" font-weight="normal" font-size="30.50" textLength="16.96" lengthAdjust="spacingAndGlyphs" fill="#000" >4</text>
<line x1="599.60" y1="1675.40" x2="589.10" y2="1675.40" stroke="#000" stroke-width="2.3" />
<text x="561.97" y="1684.90" font-family="'Liberation Sans',Arial,sans-serif" font-weight="normal" font-size="30.50" textLength="16.96" lengthAdjust="spacingAndGlyphs" fill="#000" >6</text>
<line x1="599.60" y1="1563.30" x2="589.10" y2="1563.30" stroke="#000" stroke-width="2.3" />
<text x="561.97" y="1572.80" font-family="'Liberation Sans',Arial,sans-serif" font-weight="normal" font-size="30.50" textLength="16.96" lengthAdjust="spacingAndGlyphs" fill="#000" >8</text>
<line x1="599.60" y1="1451.20" x2="589.10" y2="1451.20" stroke="#000" stroke-width="2.3" />
<text x="544.89" y="1460.70" font-family="'Liberation Sans',Arial,sans-serif" font-weight="normal" font-size="30.50" textLength="33.93" lengthAdjust="spacingAndGlyphs" fill="#000" >10</text>
<line x1="599.80" y1="2011.70" x2="599.80" y2="2022.20" stroke="#000" stroke-width="2.3" />
<text x="591.30" y="2055.90" font-family="'Liberation Sans',Arial,sans-serif" font-weight="normal" font-size="30.50" textLength="16.96" lengthAdjust="spacingAndGlyphs" fill="#000" >0</text>
<line x1="677.14" y1="2011.70" x2="677.14" y2="2022.20" stroke="#000" stroke-width="2.3" />
<text x="668.68" y="2055.90" font-family="'Liberation Sans',Arial,sans-serif" font-weight="normal" font-size="30.50" textLength="16.96" lengthAdjust="spacingAndGlyphs" fill="#000" >2</text>
<line x1="754.48" y1="2011.70" x2="754.48" y2="2022.20" stroke="#000" stroke-width="2.3" />
<text x="746.09" y="2055.90" font-family="'Liberation Sans',Arial,sans-serif" font-weight="normal" font-size="30.50" textLength="16.96" lengthAdjust="spacingAndGlyphs" fill="#000" >4</text>
<line x1="831.82" y1="2011.70" x2="831.82" y2="2022.20" stroke="#000" stroke-width="2.3" />
<text x="823.24" y="2055.90" font-family="'Liberation Sans',Arial,sans-serif" font-weight="normal" font-size="30.50" textLength="16.96" lengthAdjust="spacingAndGlyphs" fill="#000" >6</text>
<line x1="909.16" y1="2011.70" x2="909.16" y2="2022.20" stroke="#000" stroke-width="2.3" />
<text x="900.70" y="2055.90" font-family="'Liberation Sans',Arial,sans-serif" font-weight="normal" font-size="30.50" textLength="16.96" lengthAdjust="spacingAndGlyphs" fill="#000" >8</text>
<line x1="986.50" y1="2011.70" x2="986.50" y2="2022.20" stroke="#000" stroke-width="2.3" />
<text x="969.00" y="2055.90" font-family="'Liberation Sans',Arial,sans-serif" font-weight="normal" font-size="30.50" textLength="33.93" lengthAdjust="spacingAndGlyphs" fill="#000" >10</text>
<line x1="1063.84" y1="2011.70" x2="1063.84" y2="2022.20" stroke="#000" stroke-width="2.3" />
<text x="1046.53" y="2055.90" font-family="'Liberation Sans',Arial,sans-serif" font-weight="normal" font-size="30.50" textLength="33.93" lengthAdjust="spacingAndGlyphs" fill="#000" >12</text>
<line x1="1141.18" y1="2011.70" x2="1141.18" y2="2022.20" stroke="#000" stroke-width="2.3" />
<text x="1123.53" y="2055.90" font-family="'Liberation Sans',Arial,sans-serif" font-weight="normal" font-size="30.50" textLength="33.93" lengthAdjust="spacingAndGlyphs" fill="#000" >14</text>
<line x1="1218.52" y1="2011.70" x2="1218.52" y2="2022.20" stroke="#000" stroke-width="2.3" />
<text x="1201.10" y="2055.90" font-family="'Liberation Sans',Arial,sans-serif" font-weight="normal" font-size="30.50" textLength="33.93" lengthAdjust="spacingAndGlyphs" fill="#000" >16</text>
<line x1="1295.86" y1="2011.70" x2="1295.86" y2="2022.20" stroke="#000" stroke-width="2.3" />
<text x="1278.44" y="2055.90" font-family="'Liberation Sans',Arial,sans-serif" font-weight="normal" font-size="30.50" textLength="33.93" lengthAdjust="spacingAndGlyphs" fill="#000" >18</text>
<text x="830.85" y="2115.50" font-family="'Liberation Sans',Arial,sans-serif" font-weight="normal" font-size="37.10" textLength="213.45" lengthAdjust="spacingAndGlyphs" fill="#000" >Time (hours)</text>
<text transform="translate(494.90,0) rotate(-90)" x="-1978.89" y="0" font-family="'Liberation Sans',Arial,sans-serif" font-weight="normal" font-size="39.90" textLength="46.28" lengthAdjust="spacingAndGlyphs" fill="#000" >Ag</text>
<text transform="translate(475.60,0) rotate(-90)" x="-1932.43" y="0" font-family="'Liberation Sans',Arial,sans-serif" font-weight="normal" font-size="21.00" textLength="12.70" lengthAdjust="spacingAndGlyphs" fill="#000" >+</text>
<text transform="translate(494.90,0) rotate(-90)" x="-1908.60" y="0" font-family="'Liberation Sans',Arial,sans-serif" font-weight="normal" font-size="39.90" textLength="366.55" lengthAdjust="spacingAndGlyphs" fill="#000" >concentration (μg/mL)</text>
<text x="465.69" y="1427.80" font-family="'Liberation Sans',Arial,sans-serif" font-weight="bold" font-size="56.70" textLength="33.54" lengthAdjust="spacingAndGlyphs" fill="#000" >e</text>
<defs><clipPath id="ec"><rect x="600.80" y="1441.2" width="695.6999999999999" height="569.30"/></clipPath></defs>
<g clip-path="url(#ec)">
<line x1="599.80" y1="1539.20" x2="599.80" y2="1562.74" stroke="#777777" stroke-width="1.5" />
<line x1="594.00" y1="1539.20" x2="605.60" y2="1539.20" stroke="#777777" stroke-width="1.5" />
<line x1="594.00" y1="1562.74" x2="605.60" y2="1562.74" stroke="#777777" stroke-width="1.5" />
<line x1="677.14" y1="1561.62" x2="677.14" y2="1604.22" stroke="#777777" stroke-width="1.5" />
<line x1="671.34" y1="1561.62" x2="682.94" y2="1561.62" stroke="#777777" stroke-width="1.5" />
<line x1="671.34" y1="1604.22" x2="682.94" y2="1604.22" stroke="#777777" stroke-width="1.5" />
<line x1="754.48" y1="1582.36" x2="754.48" y2="1631.68" stroke="#777777" stroke-width="1.5" />
<line x1="748.68" y1="1582.36" x2="760.28" y2="1582.36" stroke="#777777" stroke-width="1.5" />
<line x1="748.68" y1="1631.68" x2="760.28" y2="1631.68" stroke="#777777" stroke-width="1.5" />
<polyline points="599.80,1550.97 677.14,1582.92 754.48,1607.02 909.16,1626.64 1063.84,1698.38 1218.52,1721.36" fill="none" stroke="#000000" stroke-width="3.1" stroke-linejoin="round"/>
<rect x="594.20" y="1545.37" width="11.2" height="11.2" fill="#000000"/>
<rect x="671.54" y="1577.32" width="11.2" height="11.2" fill="#000000"/>
<rect x="748.88" y="1601.42" width="11.2" height="11.2" fill="#000000"/>
<rect x="903.56" y="1621.04" width="11.2" height="11.2" fill="#000000"/>
<rect x="1058.24" y="1692.78" width="11.2" height="11.2" fill="#000000"/>
<rect x="1212.92" y="1715.76" width="11.2" height="11.2" fill="#000000"/>
<line x1="599.80" y1="1784.70" x2="599.80" y2="1790.30" stroke="#9a1010" stroke-width="1.5" />
<line x1="594.00" y1="1784.70" x2="605.60" y2="1784.70" stroke="#9a1010" stroke-width="1.5" />
<line x1="594.00" y1="1790.30" x2="605.60" y2="1790.30" stroke="#9a1010" stroke-width="1.5" />
<line x1="677.14" y1="1807.12" x2="677.14" y2="1816.09" stroke="#9a1010" stroke-width="1.5" />
<line x1="671.34" y1="1807.12" x2="682.94" y2="1807.12" stroke="#9a1010" stroke-width="1.5" />
<line x1="671.34" y1="1816.09" x2="682.94" y2="1816.09" stroke="#9a1010" stroke-width="1.5" />
<line x1="754.48" y1="1821.13" x2="754.48" y2="1826.74" stroke="#9a1010" stroke-width="1.5" />
<line x1="748.68" y1="1821.13" x2="760.28" y2="1821.13" stroke="#9a1010" stroke-width="1.5" />
<line x1="748.68" y1="1826.74" x2="760.28" y2="1826.74" stroke="#9a1010" stroke-width="1.5" />
<line x1="909.16" y1="1833.46" x2="909.16" y2="1837.94" stroke="#9a1010" stroke-width="1.5" />
<line x1="903.36" y1="1833.46" x2="914.96" y2="1833.46" stroke="#9a1010" stroke-width="1.5" />
<line x1="903.36" y1="1837.94" x2="914.96" y2="1837.94" stroke="#9a1010" stroke-width="1.5" />
<polyline points="599.80,1787.50 677.14,1811.60 754.48,1823.93 909.16,1835.70 1063.84,1865.97 1218.52,1879.98" fill="none" stroke="#e01818" stroke-width="3.6" stroke-linejoin="round"/>
<circle cx="599.80" cy="1787.50" r="6.3" fill="#e01818"/>
<circle cx="677.14" cy="1811.60" r="6.3" fill="#e01818"/>
<circle cx="754.48" cy="1823.93" r="6.3" fill="#e01818"/>
<circle cx="909.16" cy="1835.70" r="6.3" fill="#e01818"/>
<circle cx="1063.84" cy="1865.97" r="6.3" fill="#e01818"/>
<circle cx="1218.52" cy="1879.98" r="6.3" fill="#e01818"/>
<line x1="677.14" y1="1993.76" x2="677.14" y2="1999.37" stroke="#4848dd" stroke-width="1.5" />
<line x1="671.34" y1="1993.76" x2="682.94" y2="1993.76" stroke="#4848dd" stroke-width="1.5" />
<line x1="671.34" y1="1999.37" x2="682.94" y2="1999.37" stroke="#4848dd" stroke-width="1.5" />
<line x1="754.48" y1="1918.10" x2="754.48" y2="1976.39" stroke="#4848dd" stroke-width="1.5" />
<line x1="748.68" y1="1918.10" x2="760.28" y2="1918.10" stroke="#4848dd" stroke-width="1.5" />
<line x1="748.68" y1="1976.39" x2="760.28" y2="1976.39" stroke="#4848dd" stroke-width="1.5" />
<line x1="909.16" y1="1918.66" x2="909.16" y2="1943.32" stroke="#4848dd" stroke-width="1.5" />
<line x1="903.36" y1="1918.66" x2="914.96" y2="1918.66" stroke="#4848dd" stroke-width="1.5" />
<line x1="903.36" y1="1943.32" x2="914.96" y2="1943.32" stroke="#4848dd" stroke-width="1.5" />
<line x1="1063.84" y1="1748.27" x2="1063.84" y2="1874.94" stroke="#4848dd" stroke-width="1.5" />
<line x1="1058.04" y1="1748.27" x2="1069.64" y2="1748.27" stroke="#4848dd" stroke-width="1.5" />
<line x1="1058.04" y1="1874.94" x2="1069.64" y2="1874.94" stroke="#4848dd" stroke-width="1.5" />
<line x1="1218.52" y1="1837.38" x2="1218.52" y2="1892.31" stroke="#4848dd" stroke-width="1.5" />
<line x1="1212.72" y1="1837.38" x2="1224.32" y2="1837.38" stroke="#4848dd" stroke-width="1.5" />
<line x1="1212.72" y1="1892.31" x2="1224.32" y2="1892.31" stroke="#4848dd" stroke-width="1.5" />
<polyline points="599.80,2010.58 677.14,1996.57 754.48,1947.24 909.16,1930.99 1063.84,1811.60 1218.52,1864.85" fill="none" stroke="#0000ee" stroke-width="3.6" stroke-linejoin="round"/>
<polygon points="599.80,2002.58 607.00,2015.58 592.60,2015.58" fill="#0000ee"/>
<polygon points="677.14,1988.57 684.34,2001.57 669.94,2001.57" fill="#0000ee"/>
<polygon points="754.48,1939.24 761.68,1952.24 747.28,1952.24" fill="#0000ee"/>
<polygon points="909.16,1922.99 916.36,1935.99 901.96,1935.99" fill="#0000ee"/>
<polygon points="1063.84,1803.60 1071.04,1816.60 1056.64,1816.60" fill="#0000ee"/>
<polygon points="1218.52,1856.85 1225.72,1869.85 1211.32,1869.85" fill="#0000ee"/>
<line x1="677.14" y1="2002.73" x2="677.14" y2="2008.34" stroke="#e060e0" stroke-width="1.5" />
<line x1="671.34" y1="2002.73" x2="682.94" y2="2002.73" stroke="#e060e0" stroke-width="1.5" />
<line x1="671.34" y1="2008.34" x2="682.94" y2="2008.34" stroke="#e060e0" stroke-width="1.5" />
<line x1="754.48" y1="1966.86" x2="754.48" y2="2011.70" stroke="#e060e0" stroke-width="1.5" />
<line x1="748.68" y1="1966.86" x2="760.28" y2="1966.86" stroke="#e060e0" stroke-width="1.5" />
<line x1="748.68" y1="2011.70" x2="760.28" y2="2011.70" stroke="#e060e0" stroke-width="1.5" />
<line x1="909.16" y1="1973.59" x2="909.16" y2="2009.46" stroke="#e060e0" stroke-width="1.5" />
<line x1="903.36" y1="1973.59" x2="914.96" y2="1973.59" stroke="#e060e0" stroke-width="1.5" />
<line x1="903.36" y1="2009.46" x2="914.96" y2="2009.46" stroke="#e060e0" stroke-width="1.5" />
<line x1="1063.84" y1="1945.56" x2="1063.84" y2="1969.66" stroke="#e060e0" stroke-width="1.5" />
<line x1="1058.04" y1="1945.56" x2="1069.64" y2="1945.56" stroke="#e060e0" stroke-width="1.5" />
<line x1="1058.04" y1="1969.66" x2="1069.64" y2="1969.66" stroke="#e060e0" stroke-width="1.5" />
<line x1="1218.52" y1="1966.86" x2="1218.52" y2="1974.71" stroke="#e060e0" stroke-width="1.5" />
<line x1="1212.72" y1="1966.86" x2="1224.32" y2="1966.86" stroke="#e060e0" stroke-width="1.5" />
<line x1="1212.72" y1="1974.71" x2="1224.32" y2="1974.71" stroke="#e060e0" stroke-width="1.5" />
<polyline points="599.80,2010.02 677.14,2005.53 754.48,1989.28 909.16,1991.52 1063.84,1957.61 1218.52,1970.78" fill="none" stroke="#ee11ee" stroke-width="3.6" stroke-linejoin="round"/>
<polygon points="599.80,2018.02 607.00,2005.02 592.60,2005.02" fill="#ee11ee"/>
<polygon points="677.14,2013.53 684.34,2000.53 669.94,2000.53" fill="#ee11ee"/>
<polygon points="754.48,1997.28 761.68,1984.28 747.28,1984.28" fill="#ee11ee"/>
<polygon points="909.16,1999.52 916.36,1986.52 901.96,1986.52" fill="#ee11ee"/>
<polygon points="1063.84,1965.61 1071.04,1952.61 1056.64,1952.61" fill="#ee11ee"/>
<polygon points="1218.52,1978.78 1225.72,1965.78 1211.32,1965.78" fill="#ee11ee"/>
</g>
<line x1="960.60" y1="1467.20" x2="1029.70" y2="1467.20" stroke="#000000" stroke-width="3.2" />
<rect x="989.00" y="1461.60" width="11.2" height="11.2" fill="#000000"/>
<text x="1036.24" y="1477.70" font-family="'Liberation Sans',Arial,sans-serif" font-weight="normal" font-size="33.30" textLength="66.22" lengthAdjust="spacingAndGlyphs" fill="#000" >High</text>
<line x1="960.60" y1="1506.65" x2="1029.70" y2="1506.65" stroke="#e01818" stroke-width="3.2" />
<circle cx="994.60" cy="1506.65" r="6.3" fill="#e01818"/>
<text x="1037.45" y="1517.07" font-family="'Liberation Sans',Arial,sans-serif" font-weight="normal" font-size="33.30" textLength="131.01" lengthAdjust="spacingAndGlyphs" fill="#000" >Standard</text>
<line x1="960.60" y1="1546.10" x2="1029.70" y2="1546.10" stroke="#0000ee" stroke-width="3.2" />
<polygon points="994.60,1538.10 1001.80,1551.10 987.40,1551.10" fill="#0000ee"/>
<text x="1036.22" y="1556.44" font-family="'Liberation Sans',Arial,sans-serif" font-weight="normal" font-size="33.30" textLength="210.35" lengthAdjust="spacingAndGlyphs" fill="#000" >High+hydrogel</text>
<line x1="960.60" y1="1585.55" x2="1029.70" y2="1585.55" stroke="#ee11ee" stroke-width="3.2" />
<polygon points="994.60,1593.55 1001.80,1580.55 987.40,1580.55" fill="#ee11ee"/>
<text x="1037.45" y="1595.81" font-family="'Liberation Sans',Arial,sans-serif" font-weight="normal" font-size="33.30" textLength="273.89" lengthAdjust="spacingAndGlyphs" fill="#000" >Standard+hydrogel</text>
</svg>
</body></html>
